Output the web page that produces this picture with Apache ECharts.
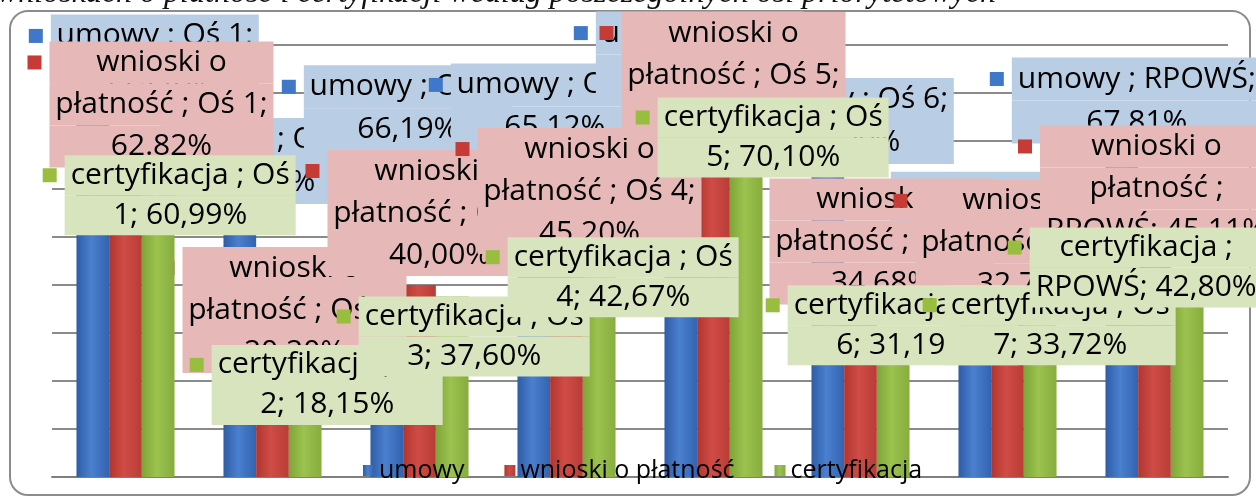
<!DOCTYPE html>
<html>
<head>
<meta charset="utf-8">
<script src="https://cdn.jsdelivr.net/npm/echarts@6/dist/echarts.min.js"></script>
<style>
  html, body { margin: 0; padding: 0; background: #fff; }
  #chart { width: 1256px; height: 501px; }
</style>
</head>
<body>
<div id="chart"></div>
<script>
// Values; the ones hidden under other labels are estimated
const categories = ['Oś 1', 'Oś 2', 'Oś 3', 'Oś 4', 'Oś 5', 'Oś 6', 'Oś 7', 'RPOWŚ'];
const seriesNames = ['umowy', 'wnioski o płatność', 'certyfikacja'];
const umowy = [77.2, 54.8, 66.19, 65.12, 80.5, 62.9, 44.2, 67.81];
const wnioski = [62.82, 20.2, 40.0, 45.2, 72.5, 34.68, 32.74, 45.11];
const certyfikacja = [60.99, 18.15, 37.6, 42.67, 70.1, 31.19, 33.72, 42.8];
const yMax = 90;
const yInterval = 10;
const titleText = 'wnioskach o płatność i certyfikacji według poszczególnych osi priorytetowych';

// Where each data label box sits: [box centre x, box top y], relative to the top of its bar
const umowyLabelPos = [[62, -92], [25, -96], [21, -94], [21, -101], [19, -79], [22, -97], [20, -93], [15, -94]];
const wnioskiLabelPos = [[36, -134], [22, -133], [20, -135], [23, -132], [20, -117], [21, -132], [20, -140], [2, -135]];
const certLabelPos = [[22, -29], [22, -45], [22, 0], [24, -35], [27, -43], [10, -42], [20, -30], [-41, -44]];

const FONT = '"Open Sans", "Noto Sans", sans-serif';
const LABEL_SIZE = 30;
const lineHeights = [43, 42, 40];
const MARK = 14;
const MARK_GAP = 8;

const barColors = [
  new echarts.graphic.LinearGradient(0, 0, 1, 0, [
    { offset: 0, color: '#2f5ca6' }, { offset: 0.45, color: '#4a80cf' }, { offset: 1, color: '#3363b0' }
  ]),
  new echarts.graphic.LinearGradient(0, 0, 1, 0, [
    { offset: 0, color: '#b0352f' }, { offset: 0.45, color: '#d04c46' }, { offset: 1, color: '#b93c36' }
  ]),
  new echarts.graphic.LinearGradient(0, 0, 1, 0, [
    { offset: 0, color: '#7fa53a' }, { offset: 0.45, color: '#9cc24f' }, { offset: 1, color: '#86ad3e' }
  ])
];
const markerColors = ['#3f78c9', '#c63b35', '#98bd3f'];
const boxColors = ['#b9cde5', '#e6b9b8', '#d7e4bd'];

function pct(v, dot) {
  const s = v.toFixed(2);
  return (dot ? s : s.replace('.', ',')) + '%';
}

// Label text, wrapped the way Excel wrapped it
function labelLines(si, ci) {
  const cat = categories[ci];
  const isTotal = cat === 'RPOWŚ';
  if (si === 0) {
    return ['umowy ; ' + cat + ';', pct(umowy[ci])];
  }
  if (si === 1) {
    const p = pct(wnioski[ci], ci === 0);
    return isTotal ? ['wnioski o', 'płatność ;', cat + '; ' + p] : ['wnioski o', 'płatność ; ' + cat + ';', p];
  }
  const p = pct(certyfikacja[ci]);
  return isTotal ? ['certyfikacja ;', cat + '; ' + p] : ['certyfikacja ; Oś', cat.replace('Oś ', '') + '; ' + p];
}

const measureCtx = document.createElement('canvas').getContext('2d');
measureCtx.font = LABEL_SIZE + 'px ' + FONT;
function boxWidth(lines) {
  let w = 0;
  lines.forEach(function (t) { w = Math.max(w, measureCtx.measureText(t).width); });
  return Math.round(w + 12);
}

function makeSeries(si, values, posList, z) {
  const lh = lineHeights[si];
  return {
    name: seriesNames[si],
    type: 'bar',
    z: z,
    barGap: '0%',
    barCategoryGap: '33.3%',
    itemStyle: { color: barColors[si] },
    label: {
      show: true,
      position: 'top',
      distance: 0,
      align: 'left',
      verticalAlign: 'top',
      lineHeight: lh,
      formatter: function (p) {
        return labelLines(si, p.dataIndex)
          .map(function (t, k) { return (k === 0 ? '{m|}{g|}' : '{s|}') + '{t|' + t + '}'; })
          .join('\n');
      },
      rich: {
        m: { width: MARK, height: MARK, backgroundColor: markerColors[si], lineHeight: lh },
        g: { width: MARK_GAP, lineHeight: lh },
        s: { width: MARK + MARK_GAP, lineHeight: lh },
        t: {
          fontFamily: FONT, fontSize: LABEL_SIZE, color: '#000',
          height: lh, lineHeight: lh, align: 'center',
          backgroundColor: boxColors[si]
        }
      }
    },
    data: values.map(function (v, i) {
      const w = boxWidth(labelLines(si, i));
      const pos = posList[i];
      return {
        value: v,
        label: { offset: [pos[0] - w / 2 - MARK - MARK_GAP, pos[1]], rich: { t: { width: w } } }
      };
    })
  };
}

const chart = echarts.init(document.getElementById('chart'));

const option = {
  backgroundColor: '#fff',
  animation: false,
  graphic: [
    {
      type: 'rect', z: 0,
      shape: { x: 10, y: 11, width: 1240, height: 484, r: 18 },
      style: { fill: 'none', stroke: '#8c8c8c', lineWidth: 2 }
    },
    {
      type: 'text', z: 0, x: -3, y: -6,
      style: {
        text: titleText, fontFamily: '"Liberation Serif", serif', fontStyle: 'italic',
        fontSize: 32, fill: '#111', verticalAlign: 'middle'
      }
    }
  ],
  grid: { left: 52, right: 28, top: 45, bottom: 24 },
  legend: {
    data: seriesNames,
    left: 358, top: 453, z: 10,
    icon: 'rect', itemWidth: 11, itemHeight: 11, itemGap: 40,
    textStyle: { fontFamily: FONT, fontSize: 25, color: '#000' }
  },
  xAxis: {
    type: 'category',
    data: categories,
    axisLabel: { show: false },
    axisTick: { show: false },
    axisLine: { lineStyle: { color: '#7f7f7f', width: 2 } }
  },
  yAxis: {
    type: 'value',
    min: 0, max: yMax, interval: yInterval,
    axisLabel: { show: false },
    axisTick: { show: false },
    axisLine: { show: false },
    splitLine: { lineStyle: { color: '#8a8a8a', width: 2 } }
  },
  series: [
    makeSeries(0, umowy, umowyLabelPos, 2),
    makeSeries(1, wnioski, wnioskiLabelPos, 3),
    makeSeries(2, certyfikacja, certLabelPos, 4)
  ]
};

chart.setOption(option);
</script>
</body>
</html>
